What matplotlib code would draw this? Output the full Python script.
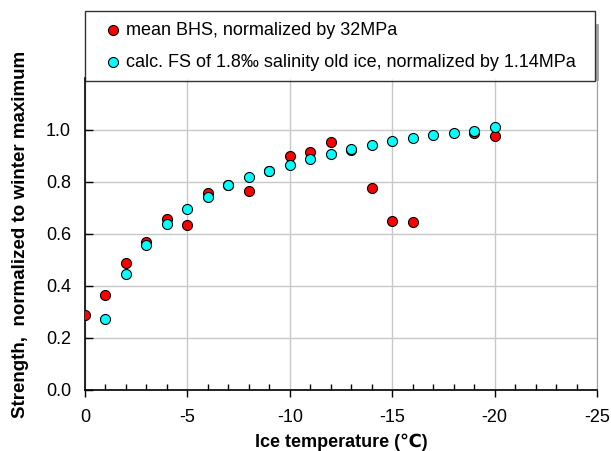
import numpy as np
import matplotlib.pyplot as plt
from matplotlib.ticker import MultipleLocator
from matplotlib.lines import Line2D

plt.rcParams['font.family'] = ['Liberation Sans', 'DejaVu Sans']
plt.rcParams['axes.unicode_minus'] = False

# mean borehole strength, normalized by 32 MPa
bhs_temp = [0, -1, -2, -3, -4, -5, -6, -7, -8, -9, -10, -11, -12, -13, -14, -15, -16, -19, -20]
bhs_val = [0.29, 0.365, 0.49, 0.568, 0.657, 0.633, 0.758, 0.787, 0.767, 0.843, 0.900, 0.914, 0.955,
           0.925, 0.777, 0.649, 0.646, 0.988, 0.978]

# calculated flexural strength, normalized by 1.14 MPa
fs_temp = [-1, -2, -3, -4, -5, -6, -7, -8, -9, -10, -11, -12, -13, -14, -15, -16, -17, -18, -19, -20]
fs_val = [0.272, 0.447, 0.559, 0.638, 0.696, 0.742, 0.787, 0.818, 0.843, 0.866, 0.890, 0.908,
          0.928, 0.942, 0.956, 0.968, 0.980, 0.990, 0.998, 1.010]

fig = plt.figure(figsize=(6.11, 4.51), dpi=100)
ax = fig.add_axes([85 / 611, 61 / 451, 512 / 611, 312 / 451])

ax.scatter(bhs_temp, bhs_val, s=52, c='#ff0000', edgecolors='black', linewidths=0.8, zorder=3,
           label='mean BHS, normalized by 32MPa')
ax.scatter(fs_temp, fs_val, s=52, c='#00ffff', edgecolors='black', linewidths=0.8, zorder=4,
           label='calc. FS of 1.8\u2030 salinity old ice, normalized by 1.14MPa')

ax.set_xlim(0, -25)
ax.set_ylim(0, 1.2)
ax.set_xticks([0, -5, -10, -15, -20, -25])
ax.xaxis.set_minor_locator(MultipleLocator(1))
ax.set_yticks([0.0, 0.2, 0.4, 0.6, 0.8, 1.0])
ax.set_yticklabels(['0.0', '0.2', '0.4', '0.6', '0.8', '1.0'])
ax.grid(True, which='major', color='#c8c8c8', linewidth=1.0)
ax.set_axisbelow(True)

ax.tick_params(axis='x', which='major', direction='out', length=5, width=1, labelsize=13, pad=9)
ax.tick_params(axis='x', which='minor', direction='in', length=4, width=1)
ax.tick_params(axis='y', which='major', direction='in', length=6, width=1, labelsize=13, pad=10)

ax.spines['top'].set_visible(False)
ax.spines['right'].set_color('#a0a0a0')
ax.spines['left'].set_linewidth(1.2)
ax.spines['bottom'].set_linewidth(1.2)

ax.set_xlabel('Ice temperature (\u2103)', fontsize=13, fontweight='bold', labelpad=5)
ax.set_ylabel('Strength,  normalized to winter maximum', fontsize=13.5, fontweight='bold', labelpad=12)

leg = fig.legend(loc='upper left', bbox_to_anchor=(85 / 611, 440 / 451, 510 / 611, 0),
                 mode='expand', fontsize=13, frameon=True, fancybox=False, borderaxespad=0,
                 handletextpad=-0.25, borderpad=0.6, labelspacing=0.82, handlelength=1.9,
                 markerscale=1.0)
leg.get_frame().set_edgecolor('black')
leg.get_frame().set_linewidth(1.0)

# legend drop shadow on the right edge
fig.add_artist(Line2D([597 / 611, 597 / 611], [1 - 25 / 451, 1 - 79 / 451],
                      transform=fig.transFigure, color='#a0a0a0', linewidth=2))

fig.savefig('out.png', dpi=100)
